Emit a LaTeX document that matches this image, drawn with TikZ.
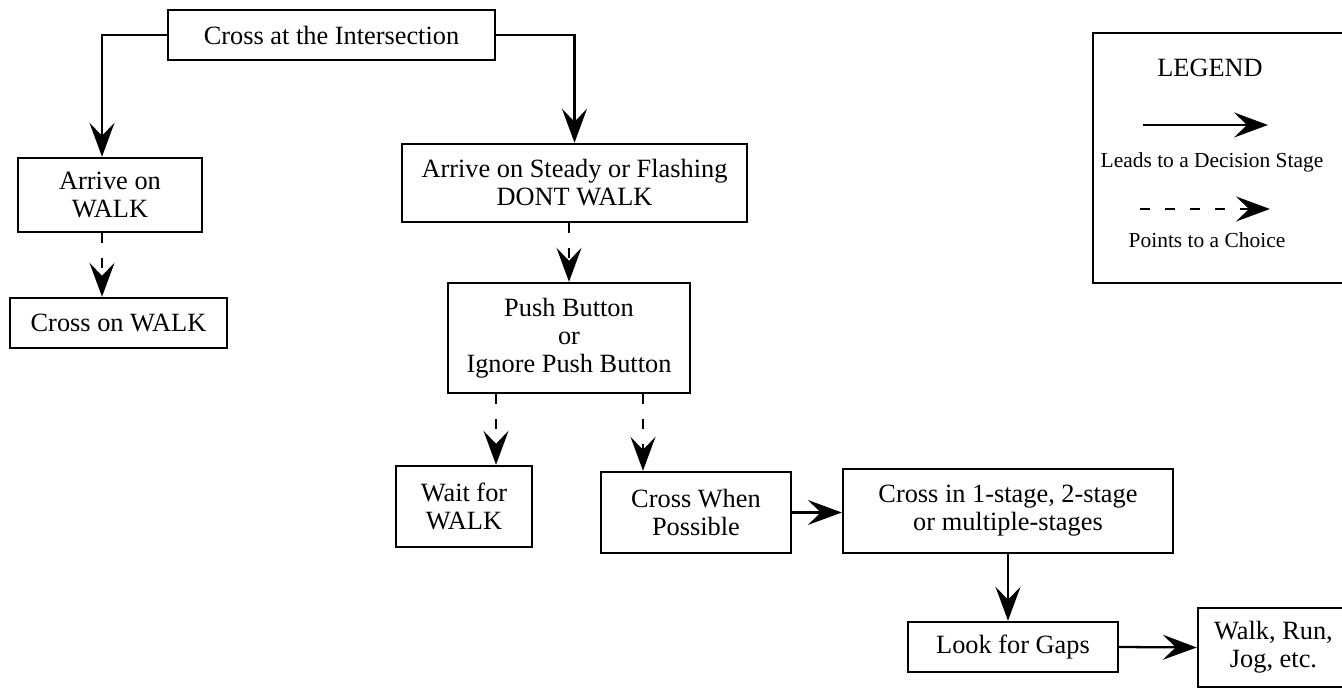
\documentclass[tikz,border=0pt]{standalone}
\usepackage{fontspec}
\setmainfont{Liberation Serif}
\usetikzlibrary{arrows.meta}
\usetikzlibrary{positioning}

\tikzset{
	stage/.style = {draw, line width = 1.4pt, align = center, inner sep = 0pt,
		font = \fontsize{15}{16}\selectfont},
	lead/.style = {line width = 1.3pt, -{Stealth[length = 0.68cm, width = 0.5cm, inset = 0.26cm]}},
	choice/.style = {lead, dash pattern = on 0.2cm off 0.3cm}
}

\begin{document}
\begin{tikzpicture}[x = 0.02cm, y = -0.02cm]
		\path [use as bounding box, clip] (0, 0) rectangle (1342, 688);

		\node [stage, minimum width = 6.54cm, minimum height = 1.0cm] (top) at (331.5, 35) {Cross at the Intersection};
		\node [stage, minimum width = 3.68cm, minimum height = 1.48cm] (arrive) at (110, 195) {Arrive on\\WALK};
		\node [stage, minimum width = 4.34cm, minimum height = 1.0cm] (crosswalk) at (118.5, 323) {Cross on WALK};
		\node [stage, minimum width = 6.9cm, minimum height = 1.56cm] (dont) at (574.5, 183) {Arrive on Steady or Flashing\\DONT WALK};
		\node [stage, minimum width = 4.84cm, minimum height = 2.2cm] (push) at (569, 338) {Push Button\\or\\Ignore Push Button};
		\node [stage, minimum width = 2.72cm, minimum height = 1.62cm] (wait) at (464, 506.5) {Wait for\\WALK};
		\node [stage, minimum width = 3.8cm, minimum height = 1.62cm] (when) at (696, 512.5) {Cross When\\Possible};
		\node [stage, minimum width = 6.6cm, minimum height = 1.68cm] (stages) at (1008, 511) {Cross in 1-stage, 2-stage\\or multiple-stages};
		\node [stage, minimum width = 4.2cm, minimum height = 1.0cm] (gaps) at (1013, 647) {Look for Gaps};
		\node [stage, minimum width = 3.08cm, minimum height = 1.58cm] (walk) at (1275, 647.5) {\hspace*{-0.06cm}Walk, Run,\\Jog, etc.\hspace*{0.06cm}};

		% decision stages
		\draw [lead] (top.west) -| ([xshift = -0.16cm] arrive.north);
		\draw [lead] (top.east) -| (dont.north);
		\draw [lead] (when.east) -- (when.east -| stages.west);
		\draw [lead] (stages.south) -- (stages.south |- gaps.north);
		\draw [lead] (gaps.east) -- (walk.west);

		% choices
		\draw [choice] ([xshift = -0.16cm] arrive.south) -- ([xshift = -0.16cm] arrive.south |- crosswalk.north);
		\draw [choice] (push.north |- dont.south) -- (push.north);
		\draw [choice] ([xshift = -1.46cm] push.south) -- ([xshift = -1.46cm] push.south |- wait.north);
		\draw [choice] ([xshift = 1.48cm] push.south) -- ([xshift = 1.48cm] push.south |- when.north);

		% legend
		\node [draw, line width = 1.4pt, minimum width = 5.14cm, minimum height = 5.0cm] (legendbox) at (1221.5, 158) {};
		\node [font = \fontsize{15}{16}\selectfont] (legendtitle) at (1210, 68) {LEGEND};
		\coordinate (leadstart) at (1143, 125);
		\coordinate (leadend) at (1268, 125);
		\draw [lead] (leadstart) -- (leadend);
		\node [font = \fontsize{12.2}{14}\selectfont] (leadtext) at (1212, 162) {Leads to a Decision Stage};
		\coordinate (choicestart) at (1140, 209);
		\coordinate (choiceend) at (1270, 209);
		\draw [choice] (choicestart) -- (choiceend);
		\node [font = \fontsize{12.2}{14}\selectfont] (choicetext) at (1207, 240) {Points to a Choice};
	\end{tikzpicture}
\end{document}
